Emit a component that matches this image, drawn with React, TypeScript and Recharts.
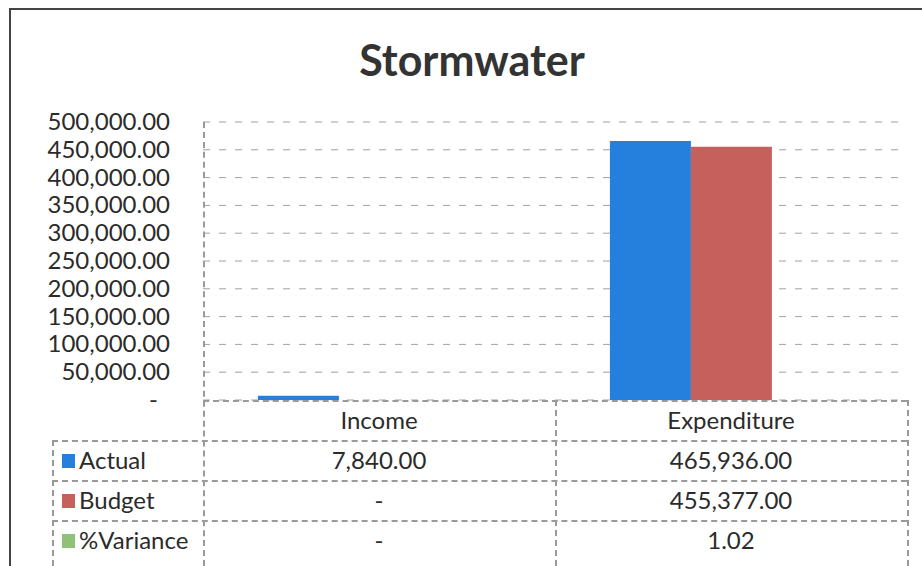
import React from 'react';
import { BarChart, Bar, XAxis, YAxis, CartesianGrid } from 'recharts';

const CATEGORIES = ['Income', 'Expenditure'];
const ACTUAL = [7840, 465936];
const BUDGET = [0, 455377];
const VARIANCE = [0, 1.02];
const Y_TICKS = [0, 50000, 100000, 150000, 200000, 250000, 300000, 350000, 400000, 450000, 500000];

const SERIES = [
  { key: 'actual', label: 'Actual', color: '#2480dc', values: ACTUAL },
  { key: 'budget', label: 'Budget', color: '#c6605c', values: BUDGET },
  { key: 'variance', label: '%Variance', color: '#8fc177', values: VARIANCE },
];

const data = CATEGORIES.map((name, i) => ({
  name,
  actual: ACTUAL[i],
  budget: BUDGET[i],
  variance: VARIANCE[i],
}));

const FONT = 'Lato, "Open Sans", sans-serif';
const TEXT = '#2b2b2b';

const fmt = (v: number) =>
  v === 0 ? '-' : v.toLocaleString('en-US', { minimumFractionDigits: 2, maximumFractionDigits: 2 });

function YTick(props: any) {
  const { x, y, payload } = props;
  const v = payload.value as number;
  return (
    <text
      x={v === 0 ? x - 12 : x}
      y={y}
      dy={8}
      textAnchor="end"
      fill={TEXT}
      fontSize={24}
      fontFamily={FONT}
    >
      {fmt(v)}
    </text>
  );
}

const PLOT_LEFT = 203;
const PLOT_RIGHT = 907;
const COL_MID = 555;
const ROW_H = 40;
const TABLE_TOP = 400;

export default function App() {
  const cell: React.CSSProperties = {
    position: 'absolute',
    height: ROW_H,
    lineHeight: `${ROW_H}px`,
    fontSize: 24,
    color: TEXT,
    fontFamily: FONT,
    textAlign: 'center',
    whiteSpace: 'nowrap',
  };
  const dash = '2px dashed #9a9a9a';

  return (
    <div style={{ position: 'absolute', left: 0, top: 0, width: 922, height: 566, background: '#fff', overflow: 'hidden' }}>
      <div style={{ position: 'absolute', left: 9, top: 8, right: 0, bottom: 0, borderTop: '2px solid #444', borderLeft: '2px solid #444' }} />
      <div
        style={{
          position: 'absolute',
          left: 0,
          width: 944,
          top: 34,
          textAlign: 'center',
          fontFamily: FONT,
          fontWeight: 'bold',
          fontSize: 43,
          color: '#333',
        }}
      >
        Stormwater
      </div>
      <BarChart
        width={922}
        height={566}
        data={data}
        margin={{ top: 122, right: 922 - PLOT_RIGHT, bottom: 566 - TABLE_TOP, left: 0 }}
        barCategoryGap="15.6%"
        barGap={0}
        style={{ position: 'absolute', left: 0, top: 0 }}
      >
        <CartesianGrid vertical={false} stroke="#a0a0a0" strokeDasharray="7 9" />
        <XAxis dataKey="name" hide />
        <YAxis
          width={PLOT_LEFT}
          domain={[0, 500000]}
          ticks={Y_TICKS}
          interval={0}
          axisLine={false}
          tickLine={false}
          tickSize={0}
          tickMargin={33}
          tick={<YTick />}
        />
        {SERIES.map((s) => (
          <Bar key={s.key} dataKey={s.key} fill={s.color} isAnimationActive={false} />
        ))}
      </BarChart>

      {/* data table */}
      <div style={{ position: 'absolute', left: PLOT_LEFT, top: 122, height: 566 - 122, borderLeft: dash }} />
      <div style={{ position: 'absolute', left: COL_MID, top: TABLE_TOP, height: 566 - TABLE_TOP, borderLeft: dash }} />
      <div style={{ position: 'absolute', left: PLOT_RIGHT, top: TABLE_TOP, height: 566 - TABLE_TOP, borderLeft: dash }} />
      <div style={{ position: 'absolute', left: 52, top: TABLE_TOP + ROW_H, height: 566 - TABLE_TOP - ROW_H, borderLeft: dash }} />
      {[0, 1, 2, 3].map((r) => (
        <div
          key={r}
          style={{
            position: 'absolute',
            left: r === 0 ? PLOT_LEFT : 52,
            width: r === 0 ? PLOT_RIGHT - PLOT_LEFT : PLOT_RIGHT - 52,
            top: TABLE_TOP + r * ROW_H,
            borderTop: dash,
          }}
        />
      ))}
      {CATEGORIES.map((c, i) => (
        <div
          key={c}
          style={{
            ...cell,
            top: TABLE_TOP,
            left: i === 0 ? PLOT_LEFT : COL_MID,
            width: i === 0 ? COL_MID - PLOT_LEFT : PLOT_RIGHT - COL_MID,
          }}
        >
          {c}
        </div>
      ))}
      {SERIES.map((s, r) => (
        <React.Fragment key={s.key}>
          <div style={{ ...cell, top: TABLE_TOP + (r + 1) * ROW_H, left: 62, textAlign: 'left' }}>
            <span
              style={{
                display: 'inline-block',
                width: 13,
                height: 14,
                background: s.color,
                marginRight: 4,
                verticalAlign: 'middle',
                position: 'relative',
                top: -2,
              }}
            />
            {s.label}
          </div>
          {s.values.map((v, i) => (
            <div
              key={i}
              style={{
                ...cell,
                top: TABLE_TOP + (r + 1) * ROW_H,
                left: i === 0 ? PLOT_LEFT : COL_MID,
                width: i === 0 ? COL_MID - PLOT_LEFT : PLOT_RIGHT - COL_MID,
              }}
            >
              {fmt(v)}
            </div>
          ))}
        </React.Fragment>
      ))}
    </div>
  );
}
